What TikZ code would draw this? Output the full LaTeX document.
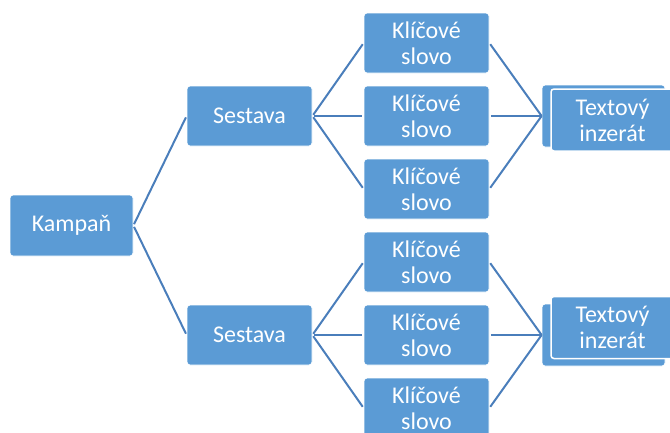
\documentclass[tikz,border=0pt]{standalone}
\usepackage{fontspec}
\setmainfont{Carlito}
\definecolor{boxblue}{HTML}{5B9BD5}
\definecolor{lineblue}{HTML}{4A7EBB}
\tikzset{
  box/.style={rectangle, rounded corners=3pt, fill=boxblue, draw=white, line width=0.8pt,
    text=white, font=\fontsize{24}{26}\selectfont, align=center, inner sep=0pt,
    minimum width=125pt, minimum height=60pt},
  front/.style={box, draw=white, line width=1.5pt, minimum width=123pt, minimum height=62pt},
  conn/.style={draw=lineblue, line width=2pt, shorten <=1.5pt, shorten >=1.5pt},
}
\begin{document}
\begin{tikzpicture}[x=1pt,y=1pt]
\useasboundingbox (0,0) rectangle (670,-432);
\node[box, minimum width=123pt, minimum height=61pt] (kampan) at (71.5,-225.5) {Kampaň};
\node[box] (s1) at (249.5,-116) {Sestava};
\node[box] (s2) at (249.5,-335) {Sestava};
\node[box] (k1) at (426.5,-43) {Klíčové\\slovo};
\node[box] (k2) at (426.5,-116) {Klíčové\\slovo};
\node[box] (k3) at (426.5,-189) {Klíčové\\slovo};
\node[box] (k4) at (426.5,-262) {Klíčové\\slovo};
\node[box] (k5) at (426.5,-335) {Klíčové\\slovo};
\node[box] (k6) at (426.5,-408) {Klíčové\\slovo};
\node[box, minimum width=123pt, minimum height=62pt] (t1b) at (603.5,-116) {};
\node[box, minimum width=123pt, minimum height=62pt] (t2b) at (603.5,-335) {};
\draw[conn] (kampan.east) -- (s1.west);
\draw[conn] (kampan.east) -- (s2.west);
\foreach \k in {k1,k2,k3} {
  \draw[conn] (s1.east) -- (\k.west);
  \draw[conn, shorten >=0pt] (\k.east) -- (t1b.west);
}
\foreach \k in {k4,k5,k6} {
  \draw[conn] (s2.east) -- (\k.west);
  \draw[conn, shorten >=0pt] (\k.east) -- (t2b.west);
}
\node[front] (t1) at (612.5,-120) {Textový\\inzerát};
\node[front] (t2) at (612.5,-327.5) {Textový\\inzerát};
\end{tikzpicture}
\end{document}
